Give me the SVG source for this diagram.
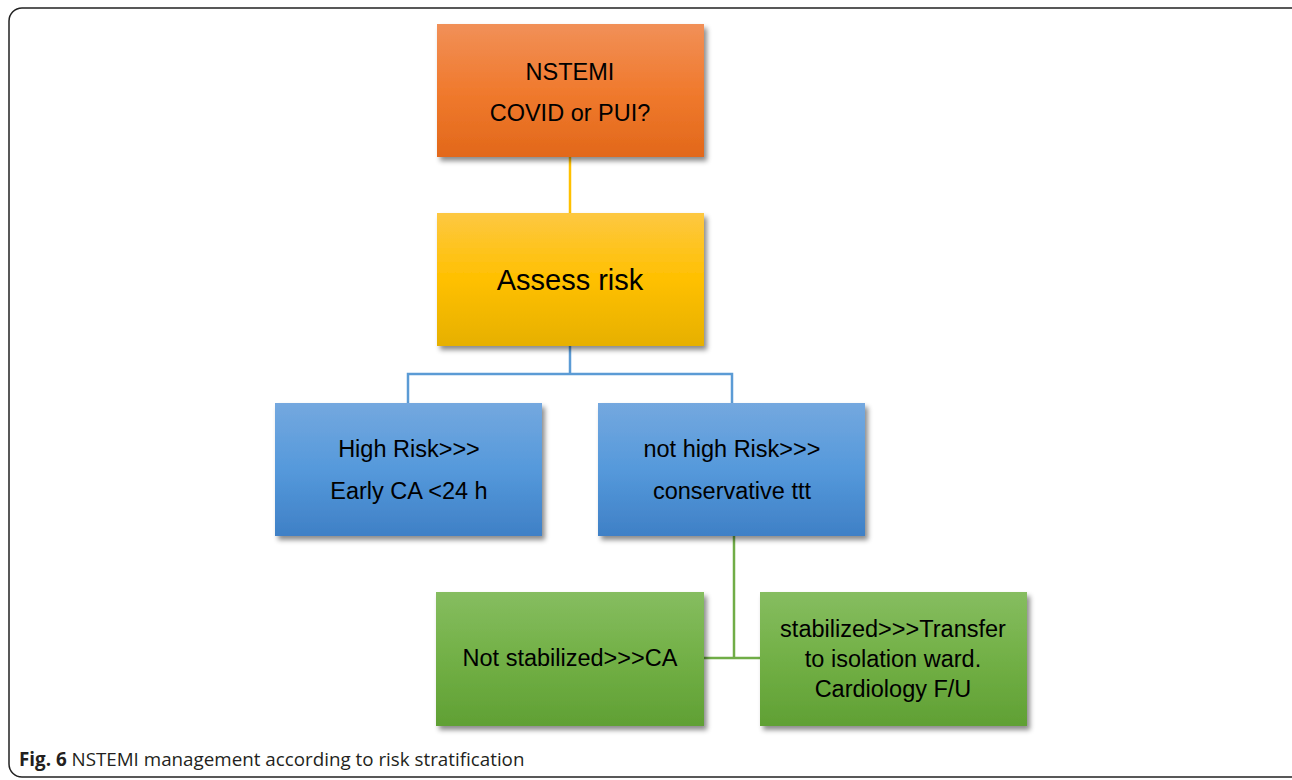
<svg xmlns="http://www.w3.org/2000/svg" width="1292" height="780" viewBox="0 0 1292 780">
<defs>
<linearGradient id="gO" x1="0" y1="0" x2="0" y2="1"><stop offset="0" stop-color="#F19058"/><stop offset="0.5" stop-color="#F07A2E"/><stop offset="1" stop-color="#E2681A"/></linearGradient>
<linearGradient id="gY" x1="0" y1="0" x2="0" y2="1"><stop offset="0" stop-color="#FDC842"/><stop offset="0.5" stop-color="#FFC000"/><stop offset="1" stop-color="#E6B002"/></linearGradient>
<linearGradient id="gB" x1="0" y1="0" x2="0" y2="1"><stop offset="0" stop-color="#74A8DF"/><stop offset="0.5" stop-color="#5599DB"/><stop offset="1" stop-color="#3F80C6"/></linearGradient>
<linearGradient id="gG" x1="0" y1="0" x2="0" y2="1"><stop offset="0" stop-color="#86BD60"/><stop offset="0.5" stop-color="#72B046"/><stop offset="1" stop-color="#60A034"/></linearGradient>
<filter id="sh" x="-10%" y="-10%" width="125%" height="130%"><feDropShadow dx="3" dy="4" stdDeviation="2.5" flood-color="#000" flood-opacity="0.45"/></filter>
</defs>
<style>
.t{font-family:"Liberation Sans",Arial,sans-serif;font-size:23.5px;fill:#000;text-anchor:middle}
.big{font-size:29px}
.cap{font-family:"Open Sans","Liberation Sans",sans-serif;font-size:18.8px;fill:#231F20}
.c{fill:none;stroke-width:2.5}
</style>
<rect x="9" y="8" width="1300" height="769" rx="13" fill="#fff" stroke="#222" stroke-width="1.5"/>
<g id="connectors">
<line class="c" x1="570" y1="157" x2="570" y2="213" stroke="#FFC000"/>
<polyline class="c" points="570,346 570,374" stroke="#5B9BD5"/>
<polyline class="c" points="408,403 408,374 732,374 732,403" stroke="#5B9BD5"/>
<polyline class="c" points="734,536 734,658" stroke="#70AD47"/>
<polyline class="c" points="704,658 760,658" stroke="#70AD47"/>
</g>
<g id="n-nstemi">
<rect x="437" y="24" width="267" height="133" fill="url(#gO)" filter="url(#sh)"/>
<text class="t" x="570" y="80">NSTEMI</text>
<text class="t" x="570" y="121">COVID or PUI?</text>
</g>
<g id="n-assess">
<rect x="437" y="213" width="267" height="133" fill="url(#gY)" filter="url(#sh)"/>
<text class="t big" x="570" y="290">Assess risk</text>
</g>
<g id="n-high">
<rect x="275" y="403" width="267" height="133" fill="url(#gB)" filter="url(#sh)"/>
<text class="t" x="409" y="457">High Risk&gt;&gt;&gt;</text>
<text class="t" x="409" y="499">Early CA &lt;24 h</text>
</g>
<g id="n-nothigh">
<rect x="598" y="403" width="267" height="133" fill="url(#gB)" filter="url(#sh)"/>
<text class="t" x="732" y="457">not high Risk&gt;&gt;&gt;</text>
<text class="t" x="732" y="499">conservative ttt</text>
</g>
<g id="n-notstab">
<rect x="436" y="592" width="268" height="134" fill="url(#gG)" filter="url(#sh)"/>
<text class="t" x="570" y="666">Not stabilized&gt;&gt;&gt;CA</text>
</g>
<g id="n-stab">
<rect x="760" y="592" width="267" height="134" fill="url(#gG)" filter="url(#sh)"/>
<text class="t" x="893" y="637">stabilized&gt;&gt;&gt;Transfer</text>
<text class="t" x="893" y="667">to isolation ward.</text>
<text class="t" x="893" y="697">Cardiology F/U</text>
</g>
<text class="cap" x="19" y="766"><tspan font-weight="bold">Fig. 6</tspan> NSTEMI management according to risk stratification</text>
</svg>
